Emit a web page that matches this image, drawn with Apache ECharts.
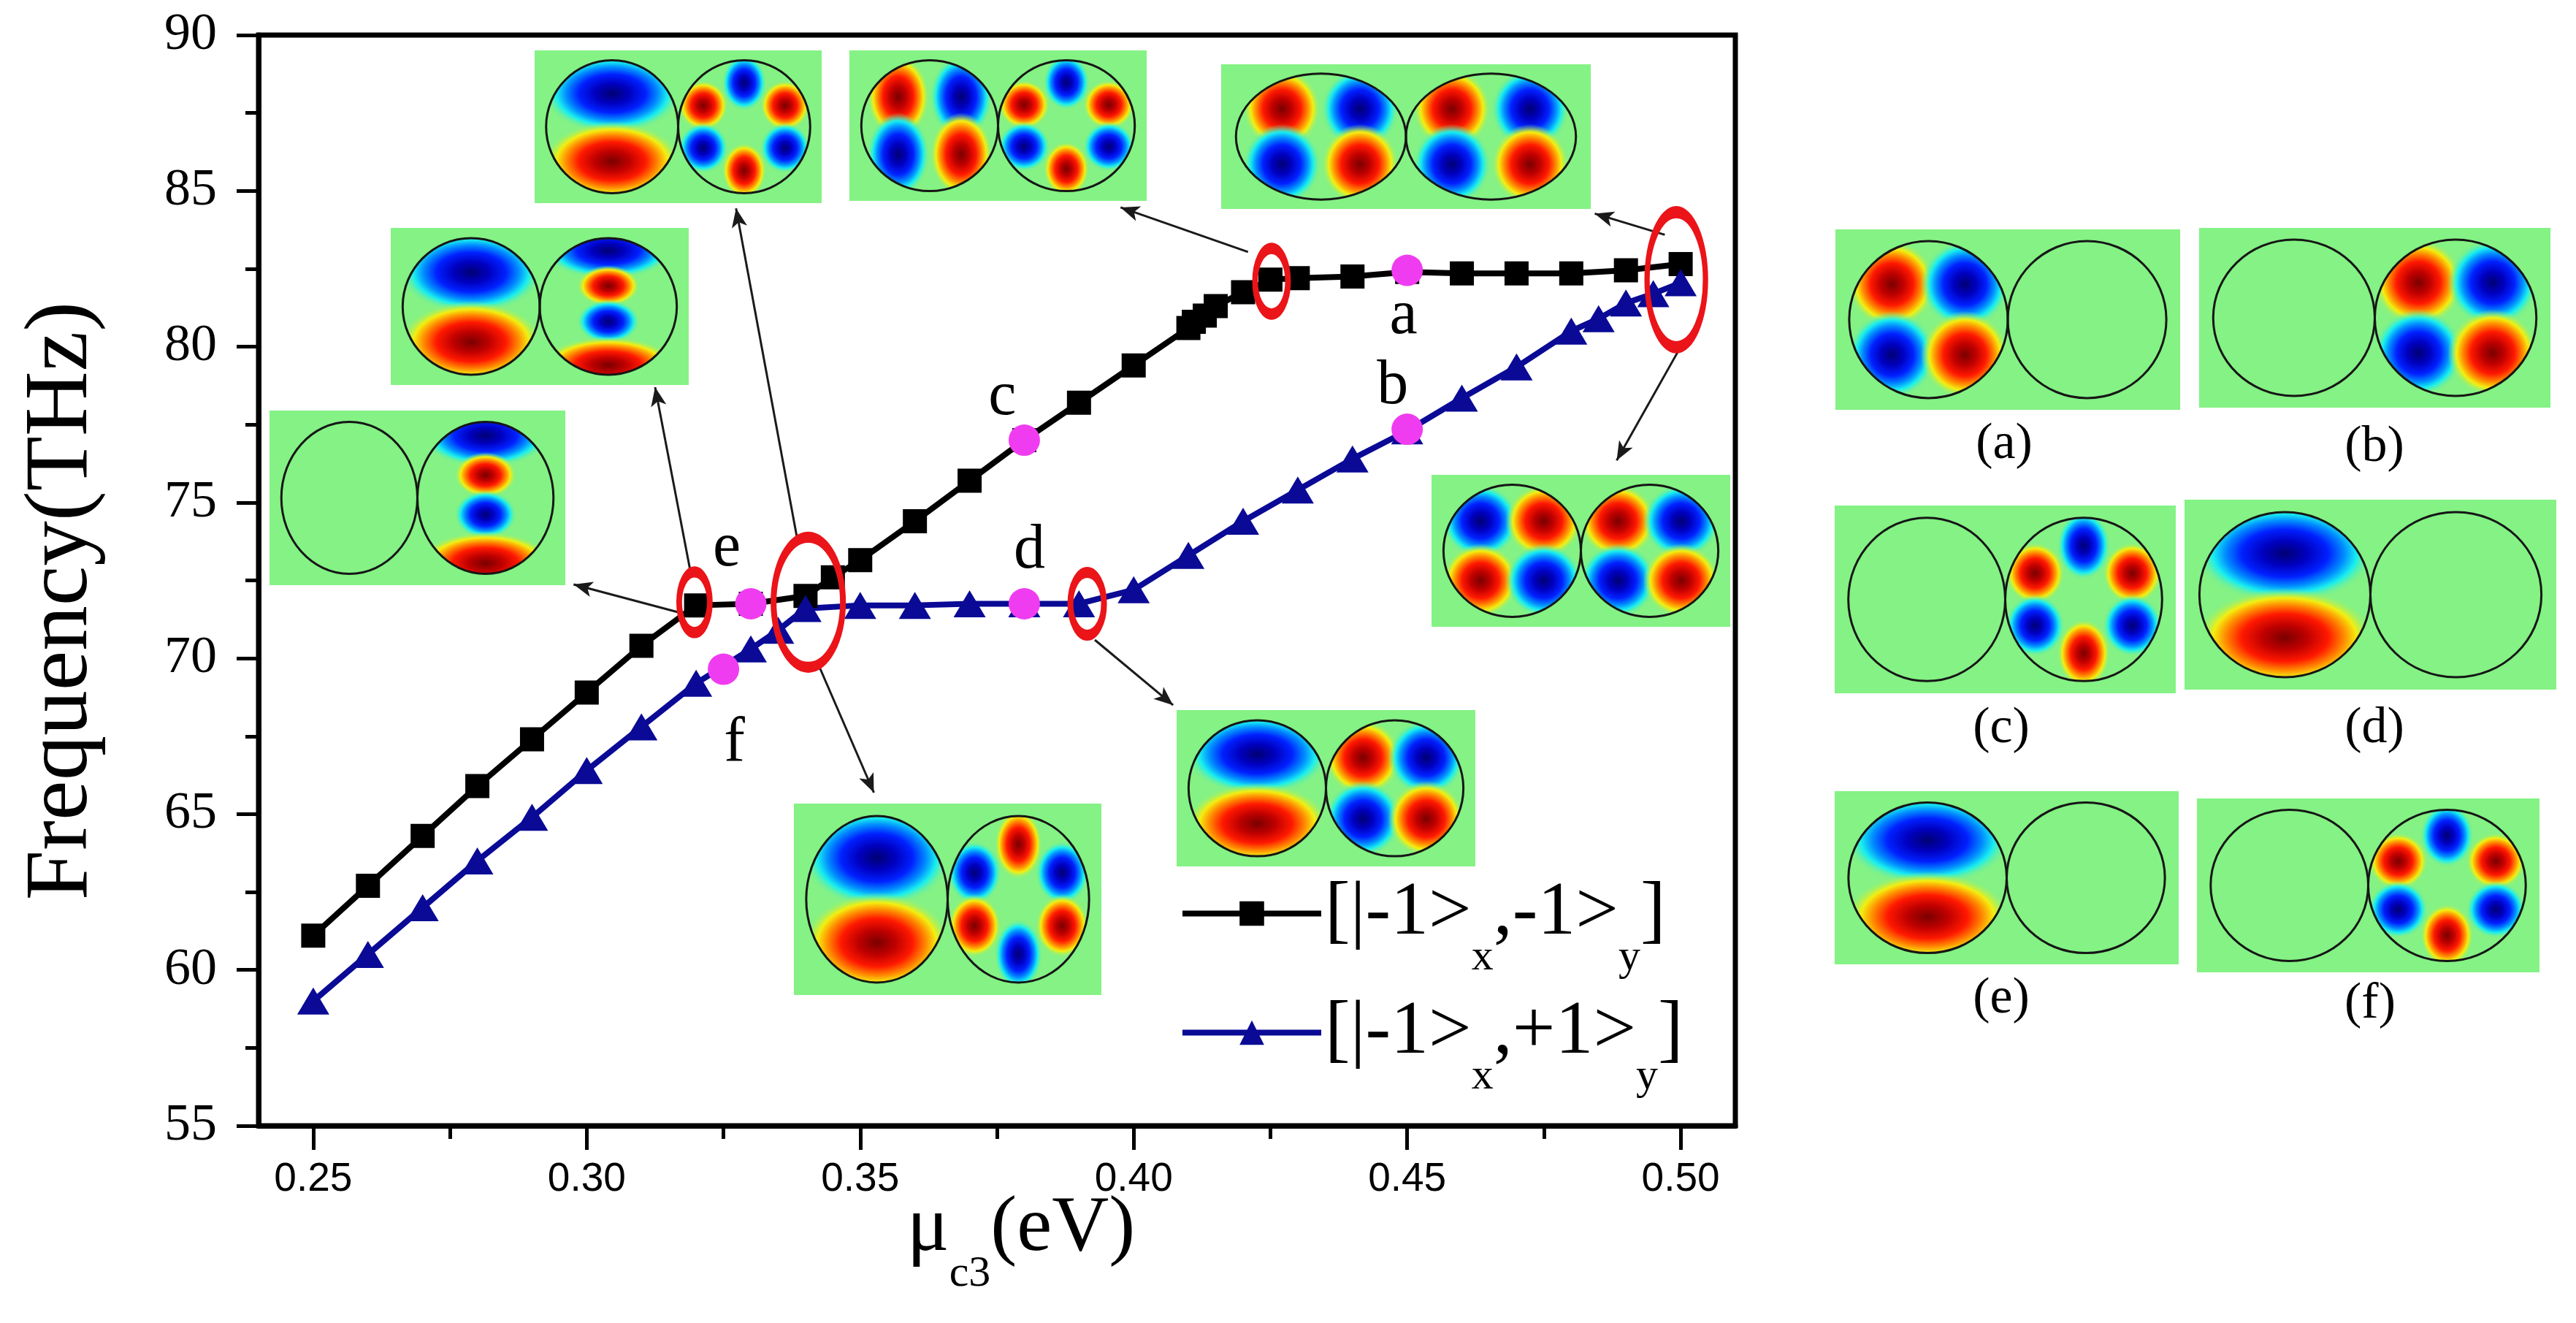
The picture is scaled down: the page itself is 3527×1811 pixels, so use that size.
<!DOCTYPE html>
<html><head><meta charset="utf-8">
<script src="https://cdn.jsdelivr.net/npm/echarts@6/dist/echarts.min.js"></script>
<style>html,body{margin:0;padding:0;background:#fff}#c{width:3527px;height:1811px}</style>
</head><body><div id="c"></div>
<script>
// ---- data ----
const blackX = [0.25,0.26,0.27,0.28,0.29,0.30,0.31,0.32,0.33,0.34,0.345,0.35,0.36,0.37,0.38,0.39,0.40,0.41,0.411,0.413,0.415,0.42,0.425,0.43,0.44,0.45,0.46,0.47,0.48,0.49,0.50];
const blackY = [61.1,62.7,64.3,65.9,67.4,68.9,70.4,71.7,71.75,72.0,72.6,73.15,74.4,75.7,77.0,78.2,79.4,80.6,80.8,81.0,81.3,81.75,82.15,82.2,82.25,82.4,82.35,82.35,82.35,82.45,82.65];
const blueX = [0.25,0.26,0.27,0.28,0.29,0.30,0.31,0.32,0.33,0.335,0.34,0.35,0.36,0.37,0.38,0.39,0.40,0.41,0.42,0.43,0.44,0.45,0.46,0.47,0.48,0.485,0.49,0.495,0.50];
const blueY = [59.0,60.5,62.0,63.5,64.9,66.4,67.8,69.2,70.3,70.9,71.6,71.7,71.7,71.75,71.75,71.75,72.2,73.3,74.4,75.4,76.4,77.3,78.35,79.35,80.5,80.9,81.4,81.7,82.05];
const pointNames = ['a','b','c','d','e','f'];
const pointX = [0.45,0.45,0.38,0.38,0.33,0.325];
const pointY = [82.45,77.35,77.0,71.75,71.75,69.65];
const ringX = [0.3197,0.3405,0.3915,0.4252,0.4992];
const ringY = [71.8,71.8,71.75,82.1,82.15];
const arrowFromX = [0.3189,0.3167,0.3385,0.3425,0.4209,0.4971,0.4996,0.3929];
const arrowFromY = [72.84,71.48,73.82,69.74,83.04,83.59,79.87,70.59];
const arrowToX   = [0.3125,0.2976,0.3273,0.3525,0.3976,0.4843,0.4883,0.4072];
const arrowToY   = [78.70,72.37,84.44,65.69,84.47,84.27,76.35,68.50];
const xTicks = [0.25,0.30,0.35,0.40,0.45,0.50];
const xMinorTicks = [0.275,0.325,0.375,0.425,0.475];
const seriesNames = ['[|-1>x,-1>y]','[|-1>x,+1>y]'];
const legendRich = ['{n|[|-1>}{s|x}{n|,-1>}{s|y}{n|]}','{n|[|-1>}{s|x}{n|,+1>}{s|y}{n|]}'];
const panelLabels = ['(a)','(b)','(c)','(d)','(e)','(f)'];

// ---- styles ----
const SERIF = '"Liberation Serif","Times New Roman",serif';
const SANS = '"Liberation Sans",Arial,sans-serif';
const BLUE = '#0a0a96';
const PINK = '#f03cf0';
const RED = '#ea1419';
const BG = '#84f284';
const ringSize = [[42,83],[95,178],[46,86],[45,90],[80,185]];
const labelOffsets = [[-5,63],[-20,-58],[-30,-58],[7,-72],[-33,-75],[15,102]];
const ELLIPSE_PATH = 'path://M0,-1C0.552,-1 1,-0.552 1,0C1,0.552 0.552,1 0,1C-0.552,1 -1,0.552 -1,0C-1,-0.552 -0.552,-1 0,-1Z';

const JET_R = [[0,'#7a0000'],[0.25,'#bf0000'],[0.48,'#ff1800'],[0.66,'#ff8a00'],[0.8,'#f4ee10'],[1,'rgba(132,242,132,0)']];
const JET_B = [[0,'#000074'],[0.25,'#0000c0'],[0.48,'#0020ff'],[0.66,'#008cff'],[0.8,'#18eef0'],[1,'rgba(132,242,132,0)']];
// lobes: [dx, dy, rx, ry, colour] in units of the circle radii
const MODES = {
  empty: [],
  quad: [[-0.46,-0.45,0.56,0.56,'r'],[0.46,-0.45,0.56,0.56,'b'],[-0.46,0.45,0.56,0.56,'b'],[0.46,0.45,0.56,0.56,'r']],
  quadInv: [[-0.46,-0.45,0.56,0.56,'b'],[0.46,-0.45,0.56,0.56,'r'],[-0.46,0.45,0.56,0.56,'r'],[0.46,0.45,0.56,0.56,'b']],
  quadTall: [[-0.46,-0.44,0.46,0.64,'r'],[0.46,-0.44,0.46,0.64,'b'],[-0.46,0.44,0.46,0.64,'b'],[0.46,0.44,0.46,0.64,'r']],
  hex: [[0,-0.66,0.34,0.42,'b'],[-0.62,-0.32,0.38,0.38,'r'],[0.62,-0.32,0.38,0.38,'r'],[-0.62,0.32,0.38,0.38,'b'],[0.62,0.32,0.38,0.38,'b'],[0,0.66,0.34,0.42,'r']],
  hexInv: [[0,-0.66,0.34,0.42,'r'],[-0.62,-0.32,0.38,0.38,'b'],[0.62,-0.32,0.38,0.38,'b'],[-0.62,0.32,0.38,0.38,'r'],[0.62,0.32,0.38,0.38,'r'],[0,0.66,0.34,0.42,'b']],
  dipole: [[0,-0.5,1.05,0.6,'b'],[0,0.52,1.05,0.6,'r']],
  bands: [[0,-0.82,0.95,0.42,'b'],[0,-0.3,0.46,0.3,'r'],[0,0.22,0.46,0.32,'b'],[0,0.86,1.0,0.42,'r']]
};
// inset boxes [x, y, w, h, leftMode, rightMode]
const insets = [
  [732,69,393,209,'dipole','hex'],
  [1163,69,407,206,'quadTall','hex'],
  [1672,88,506,198,'quadTall','quadTall'],
  [535,312,408,215,'dipole','bands'],
  [369,562,405,239,'empty','bands'],
  [1087,1100,421,262,'dipole','hexInv'],
  [1611,972,409,214,'dipole','quad'],
  [1960,650,409,208,'quadInv','quad'],
  [2513,314,472,247,'quad','empty'],
  [3011,312,481,246,'empty','quad'],
  [2512,692,467,257,'empty','hex'],
  [2991,684,509,260,'dipole','empty'],
  [2512,1083,471,237,'dipole','empty'],
  [3008,1093,469,238,'empty','hex']
];
const panelLabelPos = [[2744,609],[3251,613],[2740,998],[3251,998],[2740,1368],[3245,1375]];

const chart = echarts.init(document.getElementById('c'));
const richLegend = {
  n:{fontFamily:SERIF,fontSize:104,lineHeight:104,color:'#000',verticalAlign:'middle'},
  s:{fontFamily:SERIF,fontSize:60,lineHeight:60,color:'#000',padding:[121,0,0,0],verticalAlign:'middle'}
};
function legendCfg(i, top){
  return {show:true,data:[seriesNames[i]],left:1615,top:top,padding:0,orient:'vertical',
    itemWidth:190,itemHeight:42,selectedMode:false,
    lineStyle:{width:8},
    formatter:()=>legendRich[i],
    textStyle:{color:'#000',rich:richLegend}};
}
const panelText = panelLabels.map((t,i)=>({type:'text',x:panelLabelPos[i][0],y:panelLabelPos[i][1],silent:true,
  style:{text:t,fill:'#000',font:'70px '+SERIF,textAlign:'center',textVerticalAlign:'middle'}}));

chart.setOption({
  animation:false,
  backgroundColor:'#fff',
  grid:{left:354,top:48,width:2022,height:1493,outerBoundsMode:'none',containLabel:false,
        show:true,borderColor:'#000',borderWidth:7,backgroundColor:'transparent'},
  legend:[legendCfg(0,1160),legendCfg(1,1323)],
  xAxis:[{
    type:'value',min:0.24,max:0.51,position:'bottom',
    axisLine:{show:true,lineStyle:{color:'#000',width:7}},
    axisTick:{show:true,customValues:xTicks,length:33,lineStyle:{color:'#000',width:5}},
    axisLabel:{show:true,customValues:xTicks,margin:46,color:'#000',fontFamily:SANS,fontSize:55,formatter:v=>v.toFixed(2)},
    splitLine:{show:false},
    name:'{m|μ}{s|c3}{m|(eV)}',nameLocation:'middle',nameGap:88,nameMoveOverlap:false,
    nameTextStyle:{padding:[0,0,0,66],rich:{
      m:{fontFamily:SERIF,fontSize:108,lineHeight:108,color:'#000',verticalAlign:'middle'},
      s:{fontFamily:SERIF,fontSize:60,lineHeight:60,color:'#000',padding:[123,0,0,0],verticalAlign:'middle'}}}
  },{
    type:'value',min:0.24,max:0.51,position:'bottom',
    axisLine:{show:false},
    axisTick:{show:true,customValues:xMinorTicks,length:18,lineStyle:{color:'#000',width:5}},
    axisLabel:{show:false},splitLine:{show:false}
  }],
  yAxis:{
    type:'value',min:55,max:90,interval:5,
    axisLine:{show:true,lineStyle:{color:'#000',width:7}},
    axisTick:{show:true,length:30,lineStyle:{color:'#000',width:5}},
    minorTick:{show:true,splitNumber:2,length:18,lineStyle:{color:'#000',width:5}},
    axisLabel:{margin:57,color:'#000',fontFamily:SERIF,fontSize:72},
    splitLine:{show:false},minorSplitLine:{show:false},
    name:'Frequency(THz)',nameLocation:'middle',nameRotate:90,nameGap:207,nameMoveOverlap:false,
    nameTextStyle:{fontFamily:SERIF,fontSize:123,color:'#000',padding:[0,56,0,0]}
  },
  graphic:{elements:panelText},
  series:[
    {name:seriesNames[0],type:'line',xAxisIndex:0,z:3,data:blackX.map((x,i)=>[x,blackY[i]]),
     symbol:'rect',symbolSize:33,showAllSymbol:true,
     lineStyle:{color:'#000',width:8},itemStyle:{color:'#000'}},
    {name:seriesNames[1],type:'line',xAxisIndex:0,z:3,data:blueX.map((x,i)=>[x,blueY[i]]),
     symbol:'triangle',symbolSize:[44,37],showAllSymbol:true,
     lineStyle:{color:BLUE,width:8},itemStyle:{color:BLUE}},
    {name:'modes',type:'scatter',xAxisIndex:0,z:5,symbol:'circle',symbolSize:43,
     itemStyle:{color:PINK,opacity:1},
     data:pointX.map((x,i)=>({value:[x,pointY[i]],name:pointNames[i],
       label:{show:true,position:'inside',offset:labelOffsets[i],formatter:pointNames[i],
         color:'#000',opacity:1,textBorderWidth:0,fontFamily:SERIF,fontSize:86}}))},
    {name:'rings',type:'scatter',xAxisIndex:0,z:6,symbol:ELLIPSE_PATH,
     data:ringX.map((x,i)=>({value:[x,ringY[i]],symbolSize:ringSize[i]})),
     itemStyle:{color:'rgba(0,0,0,0)',borderColor:RED,borderWidth:11,opacity:1},
     markLine:{silent:true,symbol:['none','arrow'],symbolSize:[16,26],
       lineStyle:{color:'#1a1a1a',width:3,type:'solid',opacity:1},label:{show:false},
       emphasis:{disabled:true},
       data:arrowFromX.map((x,i)=>[{coord:[x,arrowFromY[i]]},{coord:[arrowToX[i],arrowToY[i]]}])}}
  ]
});

// ---- mode-field insets (pictures), drawn with ECharts' graphic classes ----
const G = echarts.graphic;
function makeGrad(c){
  return new G.RadialGradient(0.5,0.5,0.5,(c==='r'?JET_R:JET_B).map(s=>({offset:s[0],color:s[1]})));
}
function buildInset(b){
  const [x,y,w,h,left,right] = b;
  const rx = w*0.23, ry = h*0.435, cy = y+h/2, cxL = x+w/2-rx, cxR = x+w/2+rx;
  const root = new G.Group();
  root.add(new G.Rect({shape:{x:x,y:y,width:w,height:h},style:{fill:BG},z:1,silent:true}));
  [[cxL,left],[cxR,right]].forEach(([cx,mode])=>{
    const g = new G.Group();
    MODES[mode].forEach(([dx,dy,lx,ly,c])=>{
      const R = ly*ry;
      g.add(new G.Circle({x:cx+dx*rx,y:cy+dy*ry,scaleX:(lx*rx)/R,scaleY:1,
        shape:{cx:0,cy:0,r:R},style:{fill:makeGrad(c)},z:1,silent:true}));
    });
    g.setClipPath(new G.Ellipse({shape:{cx:cx,cy:cy,rx:rx,ry:ry}}));
    root.add(g);
  });
  [cxL,cxR].forEach(cx=>root.add(new G.Ellipse({shape:{cx:cx,cy:cy,rx:rx,ry:ry},
    style:{fill:'none',stroke:'#161616',lineWidth:3},z:1,silent:true})));
  return root;
}
const zr = chart.getZr();
insets.forEach(b=>zr.add(buildInset(b)));
</script></body></html>
